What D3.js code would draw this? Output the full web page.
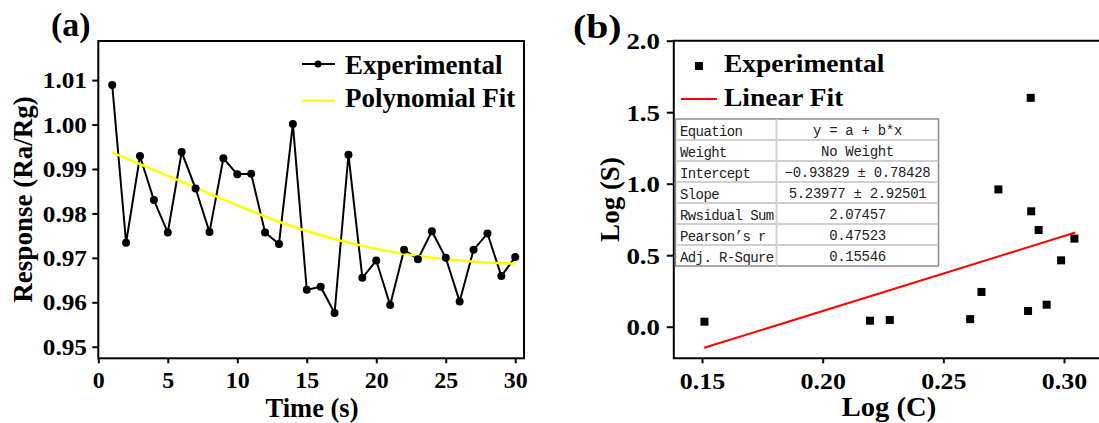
<!DOCTYPE html>
<html>
<head>
<meta charset="utf-8">
<script src="https://cdn.jsdelivr.net/npm/d3@7"></script>
<style>
  body { margin: 0; background: #fff; }
  svg text { font-family: "Liberation Serif", "Times New Roman", serif; font-weight: bold; fill: #000; }
  svg text.tbl { font-family: "Liberation Mono", "DejaVu Sans Mono", monospace; font-weight: normal; fill: #222; }
</style>
</head>
<body>
<script>
// ---- panel (a) data ----
const timeS = [1,2,3,4,5,6,7,8,9,10,11,12,13,14,15,16,17,18,19,20,21,22,23,24,25,26,27,28,29,30];
const response = [1.0089,0.9734,0.9929,0.9830,0.9757,0.9938,0.9856,0.9758,0.9924,0.9888,0.9889,0.9757,0.9731,1.0001,0.9628,0.9635,0.9576,0.9932,0.9655,0.9694,0.9594,0.9718,0.9697,0.9760,0.9700,0.9602,0.9718,0.9755,0.9659,0.9702];
const fitTime = [1,4,7,10,13,16,19,22,25,28,30];
const fitResp = [0.9937,0.9898,0.9858,0.9818,0.9780,0.9750,0.9726,0.9708,0.9696,0.9689,0.9687];
const ticksA_x = [0,5,10,15,20,25,30];
const ticksA_y = [0.95,0.96,0.97,0.98,0.99,1.00,1.01];

// ---- panel (b) data ----
const logC = [0.151,0.2196,0.2278,0.2611,0.2658,0.2728,0.2851,0.2862,0.2864,0.2895,0.2928,0.2988,0.3043];
const logS = [0.035,0.042,0.047,0.053,0.243,0.960,0.110,1.600,0.807,0.676,0.154,0.464,0.616];
const fitIntercept = -0.93829, fitSlope = 5.23977;
const fitC = [0.1509, 0.3047];
const ticksB_x = [0.15,0.20,0.25,0.30];
const ticksB_y = [0.0,0.5,1.0,1.5,2.0];
const tableLabels = ["Equation","Weight","Intercept","Slope","Rwsidual Sum","Pearson\u2019s r","Adj. R-Squre"];
const tableValues = ["y = a + b*x","No Weight","\u22120.93829 \u00b1 0.78428","5.23977 \u00b1 2.92501","2.07457","0.47523","0.15546"];

const W = 1099, H = 423;
const SERIF = '"Liberation Serif", "Times New Roman", serif';
const svg = d3.select("body").append("svg").attr("width", W).attr("height", H);

function txt(g, x, y, str, size, opt) {
  opt = opt || {};
  const sx = opt.sx || 1;
  let tf = `translate(${x},${y})`;
  if (opt.rot) tf += ` rotate(${opt.rot})`;
  tf += ` scale(${sx},1)`;
  return g.append("text").attr("transform", tf)
    .attr("text-anchor", opt.anchor || "start")
    .style("font-size", size + "px")
    .text(str);
}
function styleAxis(g, size, sx, isY, offset) {
  g.attr("font-family", null).attr("font-size", null);
  g.select(".domain").remove();
  g.selectAll(".tick line").attr("stroke", "#000").attr("stroke-width", 2);
  const t = g.selectAll(".tick text")
    .style("font-family", SERIF).style("font-weight", "bold")
    .style("font-size", size + "px").attr("fill", "#000");
  if (isY) {
    t.attr("x", offset / sx).attr("dy", "0.33em").attr("transform", `scale(${sx},1)`);
  } else {
    t.attr("y", offset).attr("dy", 0).attr("transform", `scale(${sx},1)`);
  }
}

// ================= panel (a) =================
const A = { l: 98.3, r: 524, t: 41, b: 358.3 };
const xA = d3.scaleLinear().domain([0, 30.63]).range([A.l, A.r]);
const yA = d3.scaleLinear().domain([0.9474, 1.0188]).range([A.b, A.t]);
const ga = svg.append("g");

ga.append("g").attr("transform", `translate(0,${A.b})`)
  .call(d3.axisBottom(xA).tickValues(ticksA_x).tickSize(5).tickSizeOuter(0).tickFormat(d3.format("d")))
  .call(g => styleAxis(g, 23, 1.04, false, 30));
ga.append("g").attr("transform", `translate(${A.l},0)`)
  .call(d3.axisLeft(yA).tickValues(ticksA_y).tickSize(6).tickSizeOuter(0).tickFormat(d3.format(".2f")))
  .call(g => styleAxis(g, 23, 1.1, true, -11.3));

ga.append("rect").attr("x", A.l).attr("y", A.t).attr("width", A.r - A.l).attr("height", A.b - A.t)
  .attr("fill", "none").attr("stroke", "#000").attr("stroke-width", 2);

const ptsA = timeS.map((t, i) => [t, response[i]]);
ga.append("path").datum(ptsA)
  .attr("fill", "none").attr("stroke", "#000").attr("stroke-width", 2)
  .attr("d", d3.line().x(d => xA(d[0])).y(d => yA(d[1])));
ga.append("path").datum(fitTime.map((t, i) => [t, fitResp[i]]))
  .attr("fill", "none").attr("stroke", "#ffff00").attr("stroke-width", 2.5)
  .attr("d", d3.line().curve(d3.curveBasis).x(d => xA(d[0])).y(d => yA(d[1])));
ga.selectAll("circle.pt").data(ptsA).join("circle").attr("class", "pt")
  .attr("cx", d => xA(d[0])).attr("cy", d => yA(d[1])).attr("r", 4).attr("fill", "#000");

// legend (a)
ga.append("line").attr("x1", 302).attr("x2", 335).attr("y1", 64).attr("y2", 64).attr("stroke", "#000").attr("stroke-width", 2);
ga.append("circle").attr("cx", 318).attr("cy", 64).attr("r", 3.5).attr("fill", "#000");
txt(ga, 345, 74, "Experimental", 27);
ga.append("line").attr("x1", 302).attr("x2", 335).attr("y1", 100.7).attr("y2", 100.7).attr("stroke", "#ffff00").attr("stroke-width", 2.5);
txt(ga, 345, 107, "Polynomial Fit", 27);

txt(ga, 312, 417, "Time (s)", 26.5, { anchor: "middle" });
txt(ga, 32, 199.5, "Response (Ra/Rg)", 27, { anchor: "middle", rot: -90 });
txt(ga, 51, 36, "(a)", 34);

// ================= panel (b) =================
const B = { l: 673.8, r: 1099, t: 40.7, b: 358.3 };
const xB = d3.scaleLinear().domain([0.1383, 0.3145]).range([B.l, B.r]);
const yB = d3.scaleLinear().domain([-0.221, 2.0]).range([B.b, B.t]);
const gb = svg.append("g");

gb.append("g").attr("transform", `translate(0,${B.b})`)
  .call(d3.axisBottom(xB).tickValues(ticksB_x).tickSize(5).tickSizeOuter(0).tickFormat(d3.format(".2f")))
  .call(g => styleAxis(g, 24, 1.08, false, 31));
gb.append("g").attr("transform", `translate(${B.l},0)`)
  .call(d3.axisLeft(yB).tickValues(ticksB_y).tickSize(7).tickSizeOuter(0).tickFormat(d3.format(".1f")))
  .call(g => styleAxis(g, 24, 1.12, true, -13.8));

gb.append("path").attr("fill", "none").attr("stroke", "#000").attr("stroke-width", 2)
  .attr("d", `M${B.r},${B.t}H${B.l}V${B.b}H${B.r}`);

// table
const T = { l: 675.5, r: 938.5, t: 119, rowH: 21, split: 776.5 };
const tg = gb.append("g");
tg.append("rect").attr("x", T.l).attr("y", T.t).attr("width", T.r - T.l).attr("height", T.rowH * tableLabels.length)
  .attr("fill", "#fff").attr("stroke", "#8c8c8c").attr("stroke-width", 1.5);
tg.selectAll("line.row").data(tableLabels.slice(1)).join("line").attr("class", "row")
  .attr("x1", T.l + 1).attr("x2", T.r - 1)
  .attr("y1", (d, i) => T.t + (i + 1) * T.rowH).attr("y2", (d, i) => T.t + (i + 1) * T.rowH)
  .attr("stroke", "#d0d0d0").attr("stroke-width", 2);
tg.append("line").attr("x1", T.split).attr("x2", T.split).attr("y1", T.t).attr("y2", T.t + T.rowH * tableLabels.length)
  .attr("stroke", "#d0d0d0").attr("stroke-width", 2);
tg.selectAll("text.lab").data(tableLabels).join("text").attr("class", "tbl lab")
  .attr("x", T.l + 4.5).attr("y", (d, i) => T.t + i * T.rowH + 16.5)
  .style("font-size", "14px").style("letter-spacing", "-0.6px").text(d => d);
tg.selectAll("text.val").data(tableValues).join("text").attr("class", "tbl val")
  .attr("x", (T.split + T.r) / 2).attr("y", (d, i) => T.t + i * T.rowH + 15.5)
  .attr("text-anchor", "middle").style("font-size", "14px").style("letter-spacing", "-0.3px").text(d => d);

// fit line
gb.append("path").datum(fitC.map(c => [c, fitIntercept + fitSlope * c]))
  .attr("fill", "none").attr("stroke", "#ff0000").attr("stroke-width", 2)
  .attr("d", d3.line().x(d => xB(d[0])).y(d => yB(d[1])));
// points
gb.selectAll("rect.pt").data(logC.map((c, i) => [c, logS[i]])).join("rect").attr("class", "pt")
  .attr("x", d => xB(d[0]) - 4).attr("y", d => yB(d[1]) - 4).attr("width", 8).attr("height", 8).attr("fill", "#000");

// legend (b)
gb.append("rect").attr("x", 695).attr("y", 62).attr("width", 8).attr("height", 8).attr("fill", "#000");
txt(gb, 724, 72, "Experimental", 25, { sx: 1.1 });
gb.append("line").attr("x1", 681).attr("x2", 717).attr("y1", 99).attr("y2", 99).attr("stroke", "#ff0000").attr("stroke-width", 2);
txt(gb, 724, 106, "Linear Fit", 25, { sx: 1.1 });

txt(gb, 889, 416, "Log (C)", 27, { anchor: "middle", sx: 1.06 });
txt(gb, 619, 199.5, "Log (S)", 27, { anchor: "middle", rot: -90 });
txt(gb, 573, 38, "(b)", 34, { sx: 1.17 });
</script>
</body>
</html>
